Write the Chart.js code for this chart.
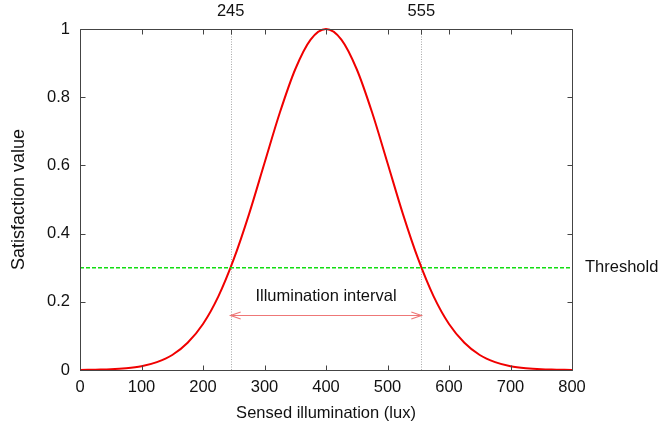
<!DOCTYPE html>
<html>
<head>
<meta charset="utf-8">
<script src="https://cdn.jsdelivr.net/npm/chart.js@4"></script>
<style>
  html, body { margin: 0; padding: 0; background: #fff; }
  #wrap { width: 660px; height: 428px; }
</style>
</head>
<body>
<div id="wrap"><canvas id="c" width="660" height="428"></canvas></div>
<script>
// ---- data ----
const illumination = [0, 25, 50, 75, 100, 125, 150, 175, 200, 225, 250, 275, 300, 325, 350, 375, 400,
                      425, 450, 475, 500, 525, 550, 575, 600, 625, 650, 675, 700, 725, 750, 775, 800];
const satisfaction = [0.000, 0.001, 0.002, 0.005, 0.011, 0.023, 0.044, 0.080, 0.135, 0.216, 0.325, 0.458, 0.607, 0.755, 0.882, 0.969, 1.000,
                      0.969, 0.882, 0.755, 0.607, 0.458, 0.325, 0.216, 0.135, 0.080, 0.044, 0.023, 0.011, 0.005, 0.002, 0.001, 0.000];
const thresholdValue = 0.3;
const intervalBounds = [245, 555];
const intervalArrowValue = 0.16;
const xTicks = [0, 100, 200, 300, 400, 500, 600, 700, 800];
const yTicks = [0, 0.2, 0.4, 0.6, 0.8, 1];
const topTickLabels = [245, 555];
const xTitle = 'Sensed illumination (lux)';
const yTitle = 'Satisfaction value';
const thresholdLabel = 'Threshold';
const intervalLabel = 'Illumination interval';

const FONT = "'Liberation Sans', Arial, Helvetica, sans-serif";
Chart.defaults.font.family = FONT;
Chart.defaults.font.size = 16.5;
Chart.defaults.color = '#111';

const curvePoints = illumination.map((x, i) => ({ x: x, y: satisfaction[i] }));
const thresholdPoints = [{ x: xTicks[0], y: thresholdValue }, { x: xTicks[xTicks.length - 1], y: thresholdValue }];

const frameColor = '#444';

const decorPlugin = {
  id: 'decor',
  beforeDatasetsDraw(chart) {
    const { ctx, chartArea: a, scales: { x, y } } = chart;
    ctx.save();
    // vertical dotted lines at interval bounds
    ctx.strokeStyle = '#a8a8a8';
    ctx.lineWidth = 1;
    ctx.setLineDash([1, 1.5]);
    intervalBounds.forEach(v => {
      const px = Math.round(x.getPixelForValue(v)) + 0.5;
      ctx.beginPath();
      ctx.moveTo(px, a.top);
      ctx.lineTo(px, a.bottom);
      ctx.stroke();
    });
    ctx.setLineDash([]);
    // interval arrow
    const x1 = x.getPixelForValue(intervalBounds[0]);
    const x2 = x.getPixelForValue(intervalBounds[1]);
    const ay = Math.round(y.getPixelForValue(intervalArrowValue)) + 0.5;
    ctx.strokeStyle = '#ee7777';
    ctx.lineWidth = 1.2;
    ctx.beginPath();
    ctx.moveTo(x1, ay); ctx.lineTo(x2, ay);
    ctx.moveTo(x1 + 10, ay - 3.5); ctx.lineTo(x1, ay); ctx.lineTo(x1 + 10, ay + 3.5);
    ctx.moveTo(x2 - 10, ay - 3.5); ctx.lineTo(x2, ay); ctx.lineTo(x2 - 10, ay + 3.5);
    ctx.stroke();
    // interval label
    ctx.fillStyle = '#111';
    ctx.font = '16.5px ' + FONT;
    ctx.textAlign = 'center';
    ctx.textBaseline = 'alphabetic';
    ctx.fillText(intervalLabel, (x1 + x2) / 2, ay - 15);
    ctx.restore();
  },
  afterDatasetsDraw(chart) {
    const { ctx, chartArea: a, scales: { x, y } } = chart;
    ctx.save();
    ctx.strokeStyle = frameColor;
    ctx.lineWidth = 1;
    const L = Math.round(a.left) + 0.5, R = Math.round(a.right) + 0.5;
    const T = Math.round(a.top) + 0.5, B = Math.round(a.bottom) + 0.5;
    ctx.beginPath();
    ctx.rect(L, T, R - L, B - T);
    const tl = 5;
    xTicks.forEach(v => {
      const px = Math.round(x.getPixelForValue(v)) + 0.5;
      ctx.moveTo(px, B); ctx.lineTo(px, B - tl);
      ctx.moveTo(px, T); ctx.lineTo(px, T + tl);
    });
    topTickLabels.forEach(v => {
      const px = Math.round(x.getPixelForValue(v)) + 0.5;
      ctx.moveTo(px, T); ctx.lineTo(px, T + tl);
    });
    yTicks.forEach(v => {
      const py = Math.round(y.getPixelForValue(v)) + 0.5;
      ctx.moveTo(L, py); ctx.lineTo(L + tl, py);
      ctx.moveTo(R, py); ctx.lineTo(R - tl, py);
    });
    ctx.stroke();
    // threshold label
    ctx.fillStyle = '#111';
    ctx.font = '16.5px ' + FONT;
    ctx.textAlign = 'left';
    ctx.textBaseline = 'middle';
    ctx.fillText(thresholdLabel, a.right + 13, y.getPixelForValue(thresholdValue));
    ctx.restore();
  }
};

new Chart(document.getElementById('c'), {
  type: 'line',
  data: {
    datasets: [
      {
        label: 'satisfaction',
        data: curvePoints,
        borderColor: '#f00000',
        borderWidth: 2,
        pointRadius: 0,
        fill: false,
        cubicInterpolationMode: 'monotone',
        clip: 4,
        order: 2
      },
      {
        label: 'threshold',
        data: thresholdPoints,
        borderColor: '#11dd11',
        borderWidth: 1.6,
        borderDash: [4, 2],
        pointRadius: 0,
        fill: false,
        order: 1
      }
    ]
  },
  options: {
    responsive: false,
    animation: false,
    events: [],
    layout: { padding: { left: 0, right: 88, top: 0, bottom: 0 } },
    plugins: { legend: { display: false }, tooltip: { enabled: false } },
    scales: {
      x: {
        type: 'linear',
        position: 'bottom',
        min: 0, max: 800,
        afterBuildTicks: s => { s.ticks = xTicks.map(v => ({ value: v })); },
        afterFit: s => { s.height = 58; },
        grid: { display: false, drawTicks: false },
        border: { display: false },
        ticks: { padding: 8, color: '#111', maxRotation: 0, autoSkip: false },
        title: { display: true, text: xTitle, color: '#111', padding: { top: 0, bottom: 5 } }
      },
      x2: {
        type: 'linear',
        position: 'top',
        min: 0, max: 800,
        afterBuildTicks: s => { s.ticks = topTickLabels.map(v => ({ value: v })); },
        afterFit: s => { s.height = 29; },
        grid: { display: false, drawTicks: false },
        border: { display: false },
        ticks: { padding: 8, color: '#111', maxRotation: 0, autoSkip: false }
      },
      y: {
        type: 'linear',
        position: 'left',
        min: 0, max: 1,
        afterBuildTicks: s => { s.ticks = yTicks.map(v => ({ value: v })); },
        afterFit: s => { s.width = 80; },
        grid: { display: false, drawTicks: false },
        border: { display: false },
        ticks: { padding: 10, color: '#111', callback: v => String(v) },
        title: { display: true, text: yTitle, color: '#111', font: { size: 18 }, padding: { top: 8, bottom: 0 } }
      }
    }
  },
  plugins: [decorPlugin]
});
</script>
</body>
</html>
